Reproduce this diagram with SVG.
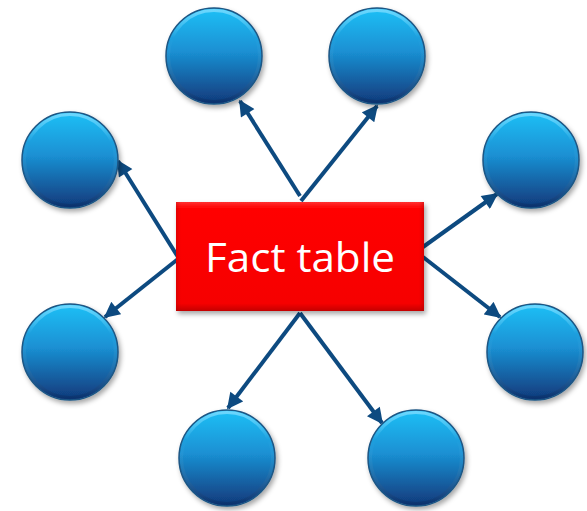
<svg xmlns="http://www.w3.org/2000/svg" width="587" height="511" viewBox="0 0 587 511">
  <style>
    .ball { fill: url(#ballFill); stroke: #1c5684; stroke-width: 1.5; filter: url(#shadow); }
    .rim { fill: none; stroke: url(#rimFill); stroke-width: 3; }
    .link { stroke: #0d4a80; stroke-width: 4; fill: none; marker-end: url(#head); }
    .label { font-family: "Open Sans", "Liberation Sans", sans-serif; font-size: 40px; fill: #ffffff; }
  </style>
  <defs>
    <linearGradient id="ballFill" x1="0" y1="0" x2="0" y2="1">
      <stop offset="0" stop-color="#1fc0f6"/>
      <stop offset="0.45" stop-color="#1a90d3"/>
      <stop offset="1" stop-color="#10397a"/>
    </linearGradient>
    <linearGradient id="rimFill" x1="0" y1="0" x2="0" y2="1">
      <stop offset="0" stop-color="#7fdcff" stop-opacity="0.8"/>
      <stop offset="0.3" stop-color="#7fdcff" stop-opacity="0"/>
      <stop offset="1" stop-color="#0a2a60" stop-opacity="0.5"/>
    </linearGradient>
    <linearGradient id="boxFill" x1="0" y1="0" x2="0" y2="1">
      <stop offset="0" stop-color="#ff3030"/>
      <stop offset="0.06" stop-color="#ff0000"/>
      <stop offset="0.93" stop-color="#f60000"/>
      <stop offset="1" stop-color="#c40000"/>
    </linearGradient>
    <linearGradient id="boxSides" x1="0" y1="0" x2="1" y2="0">
      <stop offset="0" stop-color="#b00000" stop-opacity="0.35"/>
      <stop offset="0.02" stop-color="#b00000" stop-opacity="0"/>
      <stop offset="0.98" stop-color="#b00000" stop-opacity="0"/>
      <stop offset="1" stop-color="#b00000" stop-opacity="0.45"/>
    </linearGradient>
    <filter id="shadow" x="-20%" y="-20%" width="150%" height="150%">
      <feDropShadow dx="2" dy="3" stdDeviation="2.5" flood-color="#000" flood-opacity="0.35"/>
    </filter>
    <marker id="head" viewBox="0 0 10 10" refX="9" refY="5" markerWidth="4.3" markerHeight="4" orient="auto" markerUnits="strokeWidth">
      <path d="M0,0 L10,5 L0,10 z" fill="#0d4a80"/>
    </marker>
  </defs>

  <!-- connectors from the fact table to each dimension -->
  <g id="connectors">
    <line class="link" x1="300" y1="196" x2="240" y2="101"/>
    <line class="link" x1="301" y1="201" x2="377" y2="106"/>
    <line class="link" x1="178" y1="257" x2="118" y2="161"/>
    <line class="link" x1="178" y1="259" x2="105" y2="317"/>
    <line class="link" x1="423" y1="247" x2="497" y2="194"/>
    <line class="link" x1="423" y1="257" x2="500" y2="317"/>
    <line class="link" x1="300" y1="313" x2="228" y2="408"/>
    <line class="link" x1="300" y1="313" x2="382" y2="423"/>
  </g>

  <!-- central fact table -->
  <g id="fact-table">
    <rect x="176" y="202" width="248" height="109" fill="url(#boxFill)" filter="url(#shadow)"/>
    <rect x="176" y="202" width="248" height="109" fill="url(#boxSides)"/>
    <text class="label" x="300" y="272" text-anchor="middle" textLength="190" lengthAdjust="spacingAndGlyphs">Fact table</text>
  </g>

  <!-- dimension nodes -->
  <g id="dim-top-left"><circle class="ball" cx="214" cy="56" r="48"/><circle class="rim" cx="214" cy="56" r="45.5"/></g>
  <g id="dim-top-right"><circle class="ball" cx="377" cy="56" r="48"/><circle class="rim" cx="377" cy="56" r="45.5"/></g>
  <g id="dim-left-upper"><circle class="ball" cx="70" cy="160" r="48"/><circle class="rim" cx="70" cy="160" r="45.5"/></g>
  <g id="dim-left-lower"><circle class="ball" cx="70" cy="352" r="48"/><circle class="rim" cx="70" cy="352" r="45.5"/></g>
  <g id="dim-right-upper"><circle class="ball" cx="531" cy="160" r="48"/><circle class="rim" cx="531" cy="160" r="45.5"/></g>
  <g id="dim-right-lower"><circle class="ball" cx="535" cy="352" r="48"/><circle class="rim" cx="535" cy="352" r="45.5"/></g>
  <g id="dim-bottom-left"><circle class="ball" cx="227" cy="458" r="48"/><circle class="rim" cx="227" cy="458" r="45.5"/></g>
  <g id="dim-bottom-right"><circle class="ball" cx="416" cy="458" r="48"/><circle class="rim" cx="416" cy="458" r="45.5"/></g>
</svg>
